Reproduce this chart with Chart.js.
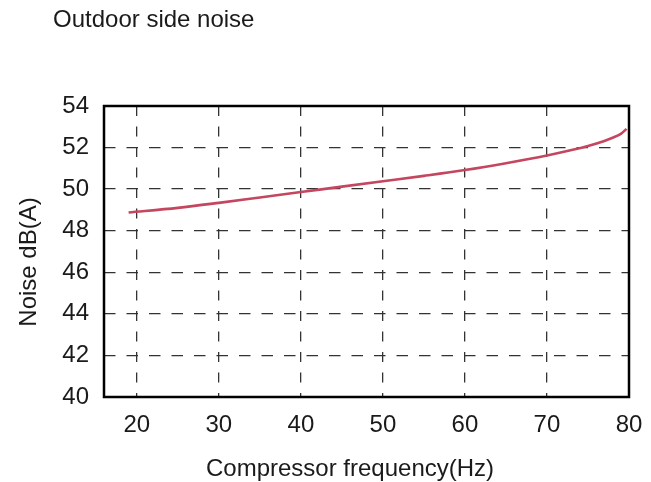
<!DOCTYPE html>
<html>
  <head>
    <script src="https://cdn.jsdelivr.net/npm/chart.js"></script>
    <style>
      body { margin: 0; background: #fff; }
    </style>
    <script>
      // Data
      const chartTitle = 'Outdoor side noise';
      const xTitle = 'Compressor frequency(Hz)';
      const yTitle = 'Noise dB(A)';
      const freqHz = [19, 25, 30, 35, 40, 45, 50, 55, 60, 65, 70, 73, 75, 77, 78, 79, 79.7];
      const noiseDb = [48.88, 49.1, 49.34, 49.6, 49.86, 50.12, 50.38, 50.64, 50.92, 51.25, 51.62, 51.88, 52.08, 52.32, 52.47, 52.66, 52.9];
      const xTicks = [20, 30, 40, 50, 60, 70, 80];
      const yTicks = [40, 42, 44, 46, 48, 50, 52, 54];

      const textColor = '#1a1a1a';
      const fontFamily = '"Liberation Sans", Arial, sans-serif';

      window.onload = function() {
        // Frame round the plot plus title texts
        const decorations = {
          id: 'decorations',
          beforeDraw(chart) {
            const ctx = chart.ctx;
            ctx.save();
            ctx.fillStyle = '#fff';
            ctx.fillRect(0, 0, chart.width, chart.height);
            ctx.restore();
          },
          afterDraw(chart) {
            const ctx = chart.ctx;
            const a = chart.chartArea;
            ctx.save();
            ctx.strokeStyle = '#000';
            ctx.lineWidth = 2.5;
            ctx.strokeRect(a.left, a.top, a.right - a.left, a.bottom - a.top);

            ctx.fillStyle = textColor;
            ctx.font = '24px ' + fontFamily;
            ctx.textBaseline = 'alphabetic';
            ctx.textAlign = 'left';
            ctx.fillText(chartTitle, 53, 27);

            ctx.textAlign = 'center';
            ctx.fillText(xTitle, 350, 476);

            ctx.translate(36, 262);
            ctx.rotate(-Math.PI / 2);
            ctx.fillText(yTitle, 0, 0);
            ctx.restore();
          }
        };

        const config = {
          type: 'line',
          data: {
            datasets: [{
              data: freqHz.map((f, i) => ({ x: f, y: noiseDb[i] })),
              borderColor: '#c4465f',
              borderWidth: 2.6,
              pointRadius: 0,
              fill: false,
              cubicInterpolationMode: 'monotone'
            }]
          },
          options: {
            responsive: false,
            animation: false,
            layout: { padding: { top: 106, right: 22, left: 0, bottom: 0 } },
            plugins: {
              legend: { display: false },
              tooltip: { enabled: false }
            },
            scales: {
              x: {
                type: 'linear',
                min: 16,
                max: 80,
                afterBuildTicks: (scale) => { scale.ticks = xTicks.map(v => ({ value: v })); },
                afterFit: (scale) => {
                  scale.height = 85;
                  scale.paddingLeft = 0;
                  scale.paddingRight = 0;
                },
                grid: { color: '#333', lineWidth: 1.3, drawTicks: false },
                border: { display: false, dash: [10, 10.5], dashOffset: 0 },
                ticks: {
                  padding: 14,
                  maxRotation: 0,
                  color: textColor,
                  font: { size: 24, family: fontFamily }
                }
              },
              y: {
                type: 'linear',
                min: 40,
                max: 54,
                afterBuildTicks: (scale) => { scale.ticks = yTicks.map(v => ({ value: v })); },
                afterFit: (scale) => {
                  scale.width = 104;
                  scale.paddingTop = 0;
                  scale.paddingBottom = 0;
                },
                grid: { color: '#333', lineWidth: 1.3, drawTicks: false },
                border: { display: false, dash: [11.5, 11], dashOffset: 0 },
                ticks: {
                  padding: 15,
                  color: textColor,
                  font: { size: 24, family: fontFamily }
                }
              }
            }
          },
          plugins: [decorations]
        };

        new Chart(document.getElementById('myChart'), config);
      }
    </script>
  </head>

  <body>
    <div>
      <canvas id="myChart" width="651" height="482"></canvas>
    </div>
  </body>
</html>
